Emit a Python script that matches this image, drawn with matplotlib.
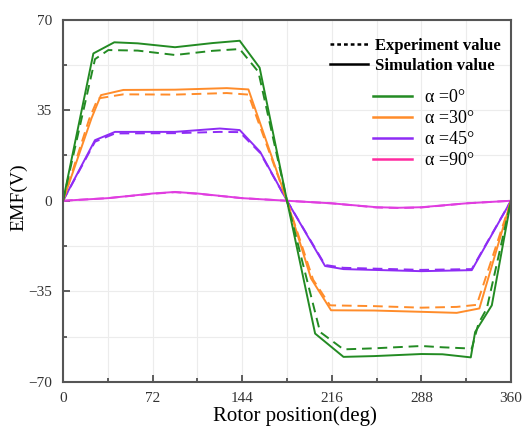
import matplotlib
matplotlib.use("Agg")
import matplotlib.pyplot as plt
from matplotlib.lines import Line2D
from matplotlib.ticker import MultipleLocator

# ---- data (rotor position in deg, EMF in V) ----
g_sim_x = [0, 24.4, 41.2, 60, 90, 120, 142, 158, 180, 202.6, 225.4, 250, 288, 305, 327.7, 331.2, 344.6, 360]
g_sim_y = [0, 56.9, 61.2, 60.8, 59.3, 60.9, 61.8, 51.4, 0, -51.3, -60.3, -60.0, -59.2, -59.3, -60.5, -50.7, -40.4, 0]
g_exp_x = [0, 25.7, 36.4, 60, 90, 120, 142, 157, 180, 206.6, 225.4, 250, 288, 305, 328.5, 333.9, 340.6, 360]
g_exp_y = [0, 54.7, 58.2, 58.0, 56.3, 57.9, 58.6, 49.8, 0, -50.7, -57.4, -57.0, -56.1, -56.6, -57.1, -47.4, -41.6, 0]

o_sim_x = [0, 23, 30.5, 48.5, 90, 131.6, 149, 180, 199.3, 215.4, 250, 288, 316.4, 334.6, 360]
o_sim_y = [0, 32.0, 40.8, 42.8, 42.9, 43.5, 43.0, 0, -30.0, -42.3, -42.4, -42.9, -43.3, -41.6, 0]
o_exp_x = [0, 21, 28, 48.5, 90, 131.6, 149, 180, 201, 214.6, 250, 288, 316.4, 332.5, 360]
o_exp_y = [0, 31.5, 39.5, 41.1, 41.0, 41.6, 41.0, 0, -30.5, -40.4, -40.7, -41.3, -41.0, -40.2, 0]

p_sim_x = [0, 25.7, 41.8, 90, 126, 142, 158.4, 180, 210.6, 225.4, 288, 328.5, 360]
p_sim_y = [0, 23.4, 26.6, 26.6, 27.9, 27.3, 18.9, 0, -25.2, -26.4, -27.2, -26.8, 0]
p_exp_x = [0, 25.7, 41.8, 90, 126, 142, 158.4, 180, 210.6, 225.4, 288, 328.5, 360]
p_exp_y = [0, 22.8, 26.0, 26.1, 26.6, 26.5, 18.5, 0, -24.8, -25.9, -26.7, -26.4, 0]

m_x = [0, 36, 72, 90, 108, 144, 180, 216, 252, 270, 288, 324, 360]
m_sim_y = [0, 1.0, 2.8, 3.4, 2.8, 1.0, 0, -1.0, -2.5, -2.7, -2.5, -1.0, 0]
m_exp_y = [0, 1.0, 2.7, 3.3, 2.7, 1.0, 0, -1.0, -2.6, -2.8, -2.6, -1.0, 0]

x_ticks = [0, 72, 144, 216, 288, 360]
y_ticks = [-70, -35, 0, 35, 70]
alpha_labels = ["\u03b1 =0\u00b0", "\u03b1 =30\u00b0", "\u03b1 =45\u00b0", "\u03b1 =90\u00b0"]

c_g, c_o, c_p, c_m = "#238b23", "#ff8c2a", "#8e2cf5", "#e03de0"
c_m_leg = "#ff2aa0"

fig = plt.figure(figsize=(5.23, 4.29), dpi=100)
ax = fig.add_axes([0.1205, 0.1096, 0.8565, 0.8449])

serif = ["Liberation Serif", "DejaVu Serif"]
dash = (0, (5, 3))
lw = 1.4
for (xs, ys, xe, ye, c) in [
    (m_x, m_sim_y, m_x, m_exp_y, c_m),
    (p_sim_x, p_sim_y, p_exp_x, p_exp_y, c_p),
    (o_sim_x, o_sim_y, o_exp_x, o_exp_y, c_o),
    (g_sim_x, g_sim_y, g_exp_x, g_exp_y, c_g),
]:
    ax.plot(xe, ye, color=c, lw=lw, linestyle=dash)
    ax.plot(xs, ys, color=c, lw=lw)

ax.set_xlim(0, 360)
ax.set_ylim(-70, 70)
ax.set_xticks(x_ticks)
ax.set_yticks(y_ticks)
ax.xaxis.set_minor_locator(MultipleLocator(36))
ax.yaxis.set_minor_locator(MultipleLocator(17.5))
ax.tick_params(which="both", direction="in", colors="#444444", width=1.2)
ax.tick_params(which="major", length=5, labelsize=11, labelcolor="#333333")
ax.tick_params(which="minor", length=3)
ax.tick_params(axis="x", pad=7)
ax.tick_params(axis="y", pad=8)
ax.set_yticklabels([str(v).replace("-", "\u2212") for v in y_ticks])
for lab in ax.get_xticklabels() + ax.get_yticklabels():
    lab.set_family(serif)
ax.grid(which="both", color="#ececec", lw=0.8)
ax.set_axisbelow(True)
for s in ax.spines.values():
    s.set_color("#555555")
    s.set_linewidth(1.5)

ax.set_xlabel("Rotor position(deg)", fontsize=15, family=serif)
ax.xaxis.set_label_coords(0.518, -0.066)
ax.set_ylabel("EMF(V)", fontsize=14, family=serif)
ax.yaxis.set_label_coords(-0.080, 0.51)

h1 = [Line2D([], [], color="black", lw=1.8, linestyle=(0, (1.5, 1.2))),
      Line2D([], [], color="black", lw=1.8)]
leg1 = ax.legend(h1, ["Experiment value", "Simulation value"], loc="upper right",
                 bbox_to_anchor=(1.01, 0.99), frameon=False,
                 prop={"family": serif, "weight": "bold", "size": 12},
                 handlelength=2.3, handletextpad=0.4, labelspacing=0.25)
ax.add_artist(leg1)

h2 = [Line2D([], [], color=c, lw=1.8) for c in (c_g, c_o, c_p, c_m_leg)]
ax.legend(h2, alpha_labels, loc="upper left", bbox_to_anchor=(0.655, 0.853),
          frameon=False, prop={"family": serif, "size": 13},
          handlelength=2.2, handletextpad=0.7, labelspacing=0.22)

fig.savefig("out.png", dpi=100)
